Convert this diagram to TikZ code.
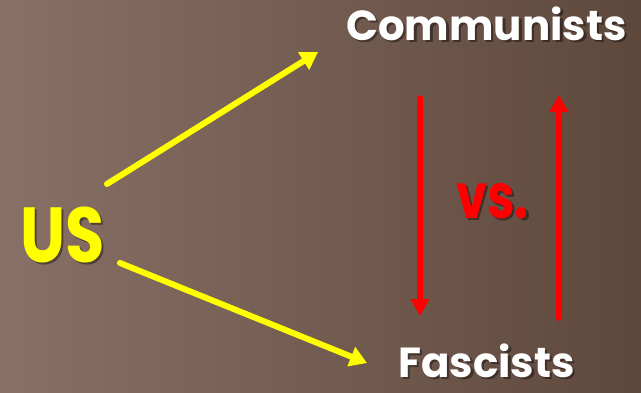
\documentclass[tikz,border=0pt]{standalone}
\usepackage{fontspec}
\setmainfont{Poppins}
\usetikzlibrary{arrows.meta}
\definecolor{bgleft}{RGB}{136,112,102}
\definecolor{bgright}{RGB}{94,71,59}
\definecolor{arrowyellow}{RGB}{255,255,0}
\definecolor{arrowred}{RGB}{255,0,0}
\tikzset{
  label/.style={font=\bfseries\fontsize{#1}{#1}\selectfont, inner sep=0pt, anchor=base},
  txtshadow/.style={text=black, text opacity=0.4},
  yarrow/.style={draw=arrowyellow, line width=6pt, -{Triangle[length=17pt,width=20pt]}},
  rarrow/.style={draw=arrowred, line width=5.5pt, -{Triangle[length=17pt,width=18pt]}},
}
\begin{document}
\begin{tikzpicture}[x=1pt,y=-1pt]
\shade[left color=bgleft, right color=bgright] (0,0) rectangle (641,392);
\useasboundingbox (0,0) rectangle (641,392);
% shadows
\node[label=42, txtshadow] (commS) at (489,42.5) {Communists};
\node[label=42, txtshadow] (fascS) at (489,379.5) {Fascists};
\node[label=78, txtshadow, xscale=0.82, transform shape] (usS) at (65,264.5) {US};
\node[label=62, txtshadow, xscale=0.8, transform shape] (vsS) at (495,220.5) {vs.};
% texts
\node[label=42, text=white] (comm) at (486.5,40) {Communists};
\node[label=42, text=white] (fasc) at (486.5,377) {Fascists};
\node[label=78, text=arrowyellow, xscale=0.82, transform shape] (us) at (62.5,262) {US};
\node[label=62, text=arrowred, xscale=0.8, transform shape] (vs) at (492.5,218) {vs.};
% connector ends
\coordinate (us1) at (107,184);
\coordinate (comm1) at (318,52);
\coordinate (us2) at (120,263);
\coordinate (fasc1) at (367,363);
\coordinate (downTop) at (420,98);
\coordinate (downBot) at (420,316);
\coordinate (upBot) at (559,318);
\coordinate (upTop) at (559,95);
\draw[yarrow, line cap=round] (us1) -- (comm1);
\draw[yarrow, line cap=round] (us2) -- (fasc1);
\draw[rarrow, line cap=round] (downTop) -- (downBot);
\draw[rarrow, line cap=round] (upBot) -- (upTop);
\end{tikzpicture}
\end{document}
